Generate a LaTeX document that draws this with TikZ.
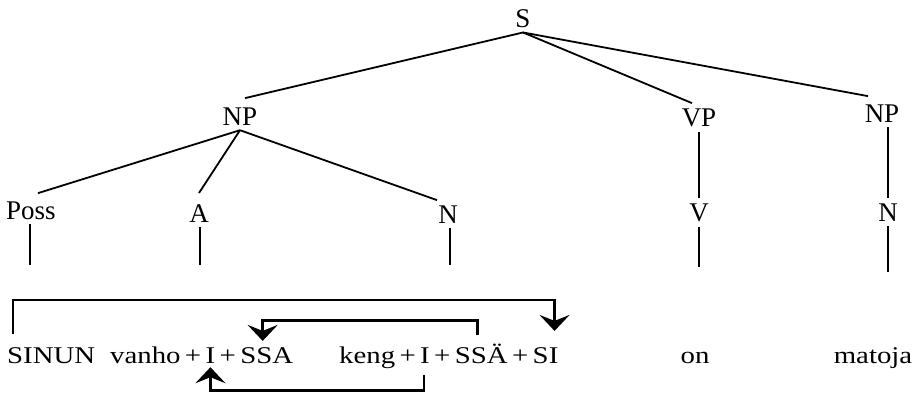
\documentclass[tikz,border=0pt]{standalone}
\usepackage{fontspec}
\setmainfont{Liberation Serif}
\newfontfamily\wordfont[FakeStretch=1.2]{Liberation Serif}
\usepackage{tikz}
\usetikzlibrary{positioning}
\usetikzlibrary{arrows.meta}

\tikzset{
	cat/.style={anchor=base, inner sep=5pt, font=\fontsize{27}{30}\selectfont},
	word/.style={inner xsep=2pt, inner ysep=0pt, font=\wordfont\fontsize{24}{28}\selectfont},
	branch/.style={line width=1.8pt},
	bracket/.style={line width=2.8pt, -{Stealth[length=16pt,width=30pt,inset=6pt]}}
}

\begin{document}
\begin{tikzpicture}[x=1pt,y=-1pt]
	\useasboundingbox (0,0) rectangle (923,392);

	% tree labels
	\node [cat] (s) at (523,27) {S};
	\node [cat] (np1) at (240,125) {NP};
	\node [cat] (vp) at (699,126) {VP};
	\node [cat] (np2) at (882,122) {NP};
	\node [cat] (poss) at (31,219) {Poss};
	\node [cat] (a) at (199,222) {A};
	\node [cat] (n1) at (448,223) {N};
	\node [cat] (v) at (699,221) {V};
	\node [cat] (n2) at (888,221) {N};

	\coordinate (possfoot) at (30,265);
	\coordinate (afoot) at (200,265);
	\coordinate (n1foot) at (450,265);
	\coordinate (vfoot) at (699,267);
	\coordinate (n2foot) at (888,272);

	\draw [branch] (s.south) -- ([xshift=5pt,yshift=4pt]np1.north);
	\draw [branch] (s.south) -- ([xshift=-7pt]vp.north);
	\draw [branch] (s.south) -- ([xshift=-14pt,yshift=3pt]np2.north);
	\draw [branch] (np1.south) -- ([xshift=7pt,yshift=3pt]poss.north);
	\draw [branch] (np1.south) -- ([yshift=6pt]a.north);
	\draw [branch] (np1.south) -- ([xshift=-11pt]n1.north);
	\draw [branch] (vp.south) -- (v.north);
	\draw [branch] (n2.north |- np2.south) -- (n2.north);

	\draw [branch] (possfoot |- poss.south) -- (possfoot);
	\draw [branch] (afoot |- a.south) -- (afoot);
	\draw [branch] (n1foot |- n1.south) -- (n1foot);
	\draw [branch] (vfoot |- v.south) -- (vfoot);
	\draw [branch] (n2foot |- n2.south) -- (n2foot);

	% the sentence
	\node [word, anchor=base west] (sinun) at (5,363) {SINUN};
	\node [word, anchor=base west] (vanho) at (108,363) {vanho};
	\node [word, base right=0pt of vanho] (p1) {+};
	\node [word, base right=0pt of p1] (i1) {I};
	\node [word, base right=0pt of i1] (p2) {+};
	\node [word, base right=0pt of p2] (ssa) {SSA};
	\node [word, anchor=base west] (keng) at (337,363) {keng};
	\node [word, base right=0pt of keng] (p3) {+};
	\node [word, base right=0pt of p3] (i2) {I};
	\node [word, base right=0pt of i2] (p4) {+};
	\node [word, base right=0pt of p4] (ssae) {SSÄ};
	\node [word, base right=0pt of ssae] (p5) {+};
	\node [word, base right=0pt of p5] (si) {SI};
	\node [word, anchor=base] (on) at (695,363) {on};
	\node [word, anchor=base] (matoja) at (873,363) {matoja};

	% morpheme moves
	\draw [bracket] ([xshift=8pt,yshift=13pt]sinun.north west) -- ++(0,-34) -| ([xshift=-6pt,yshift=16pt]si.north east);
	\draw [bracket] ([xshift=-4pt,yshift=8pt]ssae.north) -- ++(0,-15) -| ([xshift=-4pt,yshift=6pt]ssa.north);
	\draw [bracket] ([xshift=-1pt,yshift=-12pt]i2.south) -- ++(0,15) -| ([yshift=-4pt]i1.south);
\end{tikzpicture}
\end{document}
